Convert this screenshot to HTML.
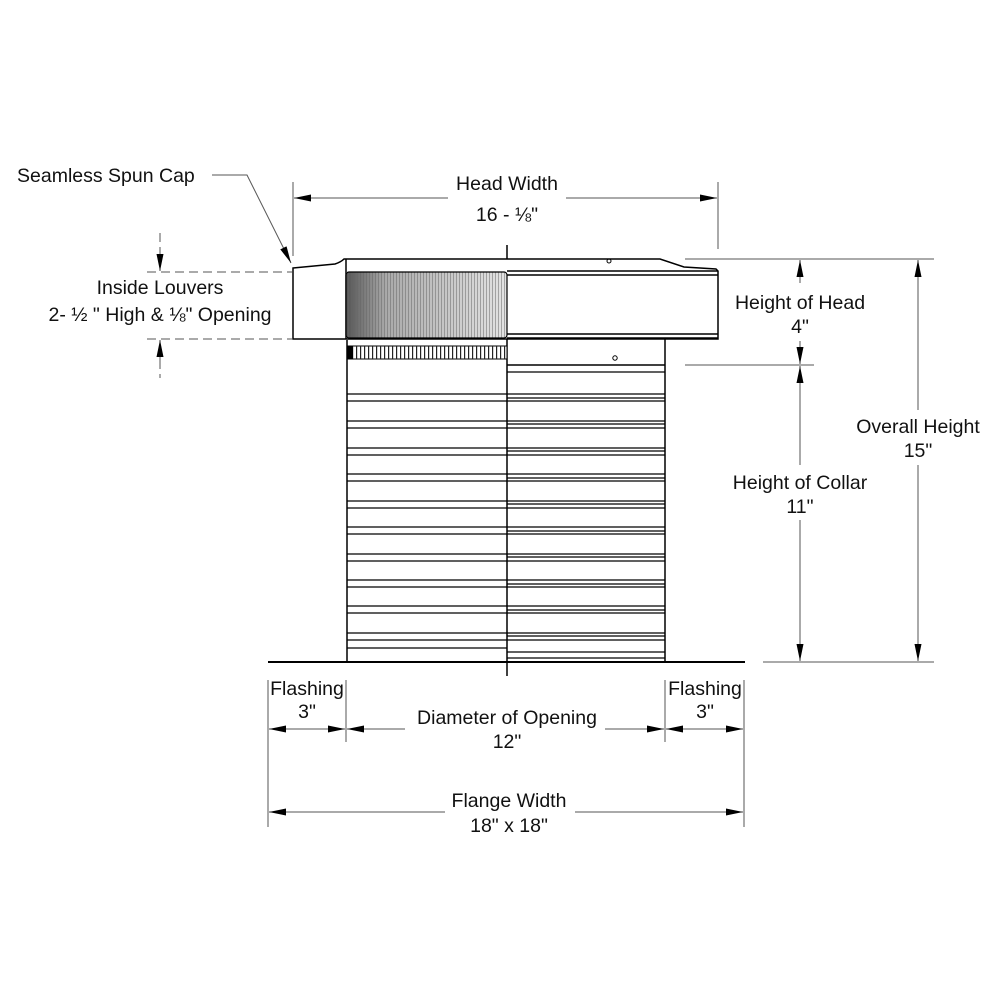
<!DOCTYPE html>
<html><head><meta charset="utf-8"><style>
html,body{margin:0;padding:0;background:#fff}
svg{display:block}
text{font-family:"Liberation Sans",sans-serif;font-size:19.5px;fill:#111}
</style></head><body>
<svg width="1000" height="1000" viewBox="0 0 1000 1000" xmlns="http://www.w3.org/2000/svg">
<defs>
<linearGradient id="lg" x1="0" x2="1" y1="0" y2="0">
<stop offset="0" stop-color="#555"/><stop offset="0.25" stop-color="#aaa"/><stop offset="1" stop-color="#e4e4e4"/>
</linearGradient>
<pattern id="vl" width="3" height="10" patternUnits="userSpaceOnUse">
<rect x="0" y="0" width="1" height="10" fill="#666" opacity="0.5"/>
</pattern>
<pattern id="vl2" width="4" height="10" patternUnits="userSpaceOnUse">
<rect x="0" y="0" width="1.2" height="10" fill="#222"/>
</pattern>
<marker id="ah" viewBox="0 0 10 10" refX="10" refY="5" markerWidth="17" markerHeight="7" markerUnits="userSpaceOnUse" orient="auto-start-reverse" preserveAspectRatio="none">
<path d="M0,0 L10,5 L0,10 z" fill="#000"/>
</marker>
</defs>

<g stroke="#000" fill="none" stroke-width="1.5">
<line x1="507" y1="245" x2="507" y2="676"/>
<path d="M293,268 L335,264 Q341,262 344,259 L660,259 L684,267 L716,269 L718,271 L718,339 L293,339 Z" fill="#fff"/>
<line x1="346" y1="259" x2="346" y2="339"/>
<line x1="507" y1="271" x2="718" y2="271"/>
<line x1="507" y1="275" x2="718" y2="275"/>
<line x1="507" y1="334" x2="718" y2="334"/>
<line x1="507" y1="338" x2="718" y2="338"/>
<circle cx="609" cy="261" r="2" stroke-width="1"/>
<rect x="346" y="272" width="161" height="66" fill="url(#lg)" stroke="none"/>
<rect x="346" y="272" width="161" height="66" fill="url(#vl)" stroke="none"/>
<rect x="346" y="272" width="161" height="66" rx="3" stroke-width="1.2"/>
<rect x="348" y="346" width="159" height="13" fill="#fff" stroke-width="1"/>
<rect x="348" y="346" width="159" height="13" fill="url(#vl2)" stroke="none"/>
<rect x="348" y="346" width="5" height="13" fill="#000" stroke="none"/>
<line x1="347" y1="340" x2="347" y2="661"/>
<line x1="665" y1="339" x2="665" y2="661"/>
<line x1="507" y1="365" x2="665" y2="365"/>
<line x1="507" y1="372" x2="665" y2="372" stroke-width="1.2"/>
<circle cx="615" cy="358" r="2.2" stroke-width="1"/>
</g>
<g stroke="#000" stroke-width="1.2" fill="none">
<path d="
M347,394 H665 M347,401 H665 M507,398 H665
M347,421 H665 M347,428 H665 M507,424 H665
M347,448 H665 M347,455 H665 M507,451 H665
M347,474 H665 M347,481 H665 M507,478 H665
M347,501 H665 M347,508 H665 M507,504 H665
M347,527 H665 M347,534 H665 M507,531 H665
M347,554 H665 M347,561 H665 M507,557 H665
M347,580 H665 M347,587 H665 M507,584 H665
M347,606 H665 M347,613 H665 M507,610 H665
M347,633 H665 M347,640 H665 M507,636 H665
M347,648 H507 M507,652 H665 M507,658 H665"/>
</g>
<line x1="268" y1="662" x2="745" y2="662" stroke="#000" stroke-width="2"/>

<g stroke="#555" stroke-width="1" fill="none">
<line x1="293" y1="182" x2="293" y2="256"/>
<line x1="718" y1="182" x2="718" y2="249"/>
<line x1="294" y1="198" x2="448" y2="198" marker-start="url(#ah)"/>
<line x1="566" y1="198" x2="717" y2="198" marker-end="url(#ah)"/>
<polyline points="212,175 247,175 291,263" marker-end="url(#ah)"/>
<line x1="685" y1="259" x2="934" y2="259"/>
<line x1="685" y1="365" x2="814" y2="365"/>
<line x1="763" y1="662" x2="934" y2="662"/>
<line x1="800" y1="283" x2="800" y2="260" marker-end="url(#ah)"/>
<line x1="800" y1="341" x2="800" y2="364" marker-end="url(#ah)"/>
<line x1="800" y1="366" x2="800" y2="465" marker-start="url(#ah)"/>
<line x1="800" y1="520" x2="800" y2="661" marker-end="url(#ah)"/>
<line x1="918" y1="260" x2="918" y2="410" marker-start="url(#ah)"/>
<line x1="918" y1="465" x2="918" y2="661" marker-end="url(#ah)"/>
<g stroke-dasharray="9,5">
<line x1="147" y1="272" x2="292" y2="272"/>
<line x1="147" y1="339" x2="292" y2="339"/>
<line x1="160" y1="233" x2="160" y2="250"/>
<line x1="160" y1="360" x2="160" y2="378"/>
</g>
<line x1="160" y1="250" x2="160" y2="271" marker-end="url(#ah)"/>
<line x1="160" y1="362" x2="160" y2="340" marker-end="url(#ah)"/>
<line x1="268" y1="680" x2="268" y2="827"/>
<line x1="346" y1="680" x2="346" y2="742"/>
<line x1="665" y1="680" x2="665" y2="742"/>
<line x1="744" y1="680" x2="744" y2="827"/>
<line x1="269" y1="729" x2="345" y2="729" marker-start="url(#ah)" marker-end="url(#ah)"/>
<line x1="347" y1="729" x2="405" y2="729" marker-start="url(#ah)"/>
<line x1="605" y1="729" x2="664" y2="729" marker-end="url(#ah)"/>
<line x1="666" y1="729" x2="743" y2="729" marker-start="url(#ah)" marker-end="url(#ah)"/>
<line x1="269" y1="812" x2="445" y2="812" marker-start="url(#ah)"/>
<line x1="575" y1="812" x2="743" y2="812" marker-end="url(#ah)"/>
</g>

<g>
<text x="17" y="182">Seamless Spun Cap</text>
<text x="507" y="190" text-anchor="middle">Head Width</text>
<text x="507" y="221" text-anchor="middle">16 - ⅛"</text>
<text x="160" y="294" text-anchor="middle">Inside Louvers</text>
<text x="160" y="321" text-anchor="middle">2- ½ " High  &amp;  ⅛" Opening</text>
<text x="800" y="309" text-anchor="middle">Height of Head</text>
<text x="800" y="333" text-anchor="middle">4"</text>
<text x="918" y="433" text-anchor="middle">Overall Height</text>
<text x="918" y="457" text-anchor="middle">15"</text>
<text x="800" y="489" text-anchor="middle">Height of Collar</text>
<text x="800" y="513" text-anchor="middle">11"</text>
<text x="307" y="695" text-anchor="middle">Flashing</text>
<text x="307" y="718" text-anchor="middle">3"</text>
<text x="705" y="695" text-anchor="middle">Flashing</text>
<text x="705" y="718" text-anchor="middle">3"</text>
<text x="507" y="724" text-anchor="middle">Diameter of Opening</text>
<text x="507" y="748" text-anchor="middle">12"</text>
<text x="509" y="807" text-anchor="middle">Flange Width</text>
<text x="509" y="832" text-anchor="middle">18" x 18"</text>
</g>
</svg>
</body></html>
